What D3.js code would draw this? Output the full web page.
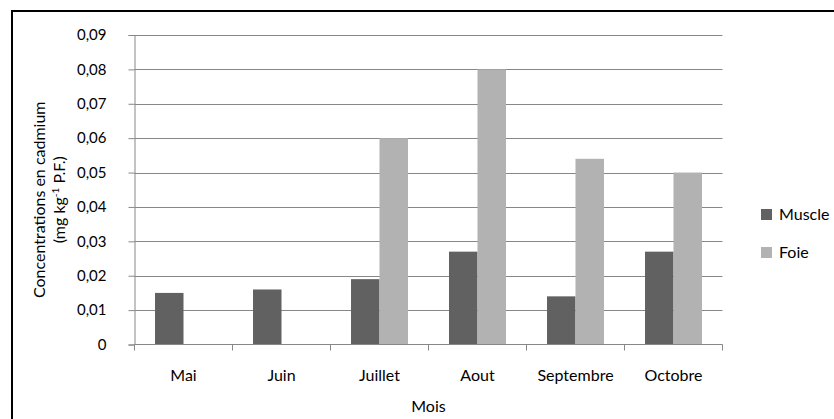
<!DOCTYPE html>
<html><head><meta charset="utf-8">
<script src="https://cdn.jsdelivr.net/npm/d3@7"></script>
<style>
html,body{margin:0;padding:0;background:#fff;}
svg{display:block;font-family:"Lato","Open Sans",sans-serif;}
</style></head>
<body><svg id="c" width="834" height="419"></svg>
<script>
const months = ["Mai","Juin","Juillet","Aout","Septembre","Octobre"];
const seriesNames = ["Muscle","Foie"];
const muscle = [0.015,0.016,0.019,0.027,0.014,0.027];
const foie = [null,null,0.060,0.080,0.054,0.050];
const yTicks = [0,0.01,0.02,0.03,0.04,0.05,0.06,0.07,0.08,0.09];
const colors = ["#616161","#b2b2b2"];

const svg = d3.select("#c");
const L=134.5, R=722.5, T=35, B=344.5;
const FS = "16px", FN = "15px";

svg.append("rect").attr("x",12).attr("y",11).attr("width",900).attr("height",500)
  .attr("fill","#fff").attr("stroke","#000").attr("stroke-width",2);

const x = d3.scaleBand().domain(months).range([L,R]).paddingInner(0).paddingOuter(0);
const xs = d3.scaleBand().domain(seriesNames).range([0,x.bandwidth()]).paddingInner(0).paddingOuter(0.72);
const y = d3.scaleLinear().domain([0,0.09]).range([B,T]);

// gridlines
svg.append("g").selectAll("line").data(yTicks.filter(d=>d>0)).join("line")
  .attr("x1",L).attr("x2",R).attr("y1",d=>Math.round(y(d))+0.5).attr("y2",d=>Math.round(y(d))+0.5)
  .attr("stroke","#878787").attr("stroke-width",1);

// y axis
const fmt = d => d===0 ? "0" : d3.format(".2f")(d).replace(".",",");
const yAxis = svg.append("g").attr("transform",`translate(${L},0)`)
  .call(d3.axisLeft(y).tickValues(yTicks).tickFormat(fmt).tickSize(6).tickPadding(22));
yAxis.select(".domain").attr("stroke","#878787");
yAxis.selectAll(".tick line").attr("stroke","#878787");
yAxis.selectAll("text").attr("font-size",FN).attr("fill","#000").attr("font-family","Lato");

// bars
const data = months.map((m,i)=>({m, vals:[muscle[i],foie[i]]}));
const g = svg.append("g");
data.forEach(d=>{
  d.vals.forEach((v,j)=>{
    if(v==null) return;
    g.append("rect").attr("x",x(d.m)+xs(seriesNames[j])).attr("width",xs.bandwidth())
     .attr("y",y(v)).attr("height",y(0)-y(v)).attr("fill",colors[j]);
  });
});

// x axis
const xAxisG = svg.append("g").attr("transform",`translate(0,${B})`);
xAxisG.append("line").attr("x1",L).attr("x2",R).attr("stroke","#878787");
const bounds = months.map(m=>x(m)).concat([R]);
xAxisG.selectAll("line.tk").data(bounds).join("line").attr("class","tk")
  .attr("x1",d=>d).attr("x2",d=>d).attr("y1",0).attr("y2",6).attr("stroke","#878787");
xAxisG.selectAll("text").data(months).join("text")
  .attr("x",d=>x(d)+x.bandwidth()/2).attr("y",36).attr("text-anchor","middle")
  .attr("font-size",FS).attr("fill","#000").text(d=>d);

// axis titles
svg.append("text").attr("x",(L+R)/2).attr("y",412).attr("text-anchor","middle")
  .attr("font-size",FS).text("Mois");
const yt = svg.append("g").attr("transform",`translate(45,${(T+B)/2+10}) rotate(-90)`);
yt.append("text").attr("text-anchor","middle").attr("font-size",FS).text("Concentrations en cadmium");
const t2 = yt.append("text").attr("y",20).attr("text-anchor","middle").attr("font-size",FS);
t2.append("tspan").text("(mg kg");
t2.append("tspan").attr("dy",-6).attr("font-size","10px").text("-1");
t2.append("tspan").attr("dy",6).text(" P.F.)");

// legend
const lg = svg.append("g");
seriesNames.forEach((s,i)=>{
  const cy = 215 + i*38;
  lg.append("rect").attr("x",761).attr("y",cy-6).attr("width",11).attr("height",11).attr("fill",colors[i]);
  lg.append("text").attr("x",779).attr("y",cy+5).attr("font-size",FS).text(s);
});
</script></body></html>
